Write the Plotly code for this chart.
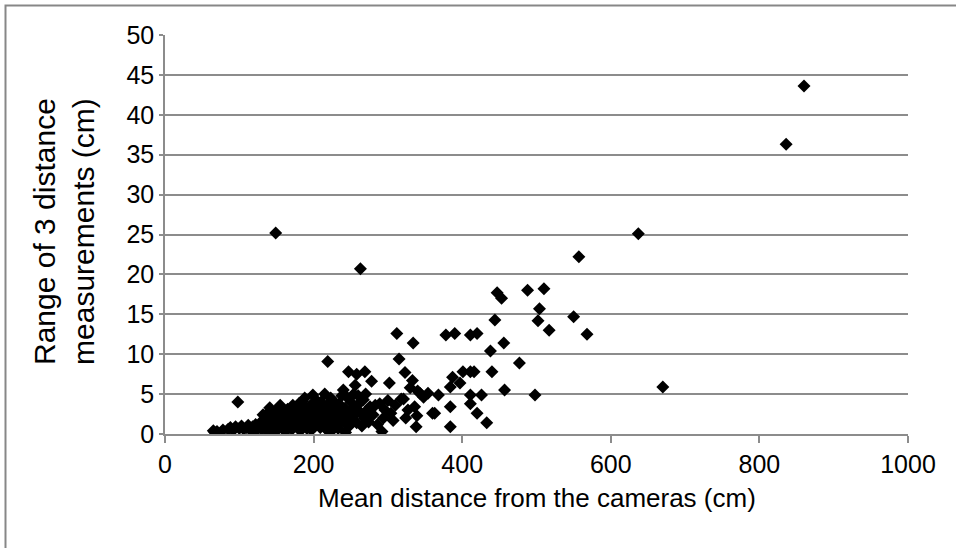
import plotly.graph_objects as go

# Mean distance from the cameras (cm)
mean_distance = [
    65, 67, 70, 78, 85, 88, 92, 95, 98, 100, 103, 106, 110, 112, 115, 118, 120, 122, 125, 128,
    130, 132, 134, 136, 138, 140, 141, 142, 143, 145, 146, 148, 149, 150, 151, 152, 154, 155, 156, 158,
    160, 161, 162, 164, 165, 166, 168, 170, 171, 172, 174, 175, 176, 178, 179, 180, 181, 182, 184, 185,
    186, 188, 189, 190, 191, 193, 194, 196, 197, 199, 200, 201, 202, 204, 205, 206, 208, 209, 210, 211,
    212, 214, 215, 216, 217, 218, 219, 220, 221, 222, 223, 224, 225, 226, 228, 229, 230, 232, 233, 234,
    236, 237, 238, 240, 241, 242, 243, 244, 245, 247, 247, 248, 250, 251, 252, 254, 255, 256, 258, 258,
    259, 260, 262, 263, 269, 265, 267, 268, 270, 272, 274, 276, 278, 280, 283, 286, 289, 292, 294, 296,
    300, 302, 304, 307, 310, 312, 315, 318, 321, 323, 324, 327, 330, 333, 334, 336, 338, 339, 340, 343,
    348, 354, 360, 363, 368, 378, 384, 384, 384, 387, 390, 397, 401, 411, 411, 411, 411, 416, 420, 420,
    426, 433, 438, 440, 444, 447, 453, 456, 457, 477, 488, 498, 502, 504, 510, 517, 550, 557, 568, 637,
    670, 836, 860,
]

# Range of 3 distance measurements (cm)
distance_range = [
    0.4, 0.2, 0.3, 0.5, 0.6, 0.8, 0.5, 0.9, 4.0, 0.7, 1.0, 0.6, 0.8, 1.1, 0.5, 0.9, 0.2, 1.2, 0.8, 1.4,
    0.6, 2.4, 1.0, 1.8, 0.3, 2.8, 3.3, 1.5, 0.1, 2.2, 0.9, 1.7, 25.2, 3.0, 0.5, 2.5, 1.2, 3.6, 2.0, 0.8,
    2.9, 1.5, 0.3, 2.2, 3.1, 1.0, 1.8, 2.6, 0.6, 3.6, 1.4, 2.0, 3.0, 0.9, 2.4, 3.8, 1.6, 0.4, 2.8, 4.1,
    1.2, 4.5, 2.0, 3.2, 0.7, 2.5, 1.5, 3.6, 0.5, 4.9, 2.2, 3.0, 1.0, 4.2, 1.8, 2.7, 3.4, 0.8, 4.0, 2.3,
    1.4, 3.0, 5.0, 2.0, 0.6, 3.6, 9.1, 2.6, 1.2, 0.2, 4.5, 3.2, 1.8, 2.8, 4.0, 1.0, 3.4, 2.2, 0.7, 3.8,
    1.5, 2.9, 4.8, 5.5, 2.0, 3.2, 0.2, 1.2, 4.6, 7.8, 2.6, 1.0, 4.0, 3.0, 1.8, 5.0, 2.4, 6.1, 7.5, 1.4,
    3.6, 4.8, 2.8, 20.7, 7.8, 1.0, 4.3, 2.0, 5.0, 3.0, 1.5, 3.4, 6.6, 2.4, 3.6, 1.2, 3.8, 0.3, 2.0, 3.0,
    4.2, 6.4, 2.6, 1.7, 3.6, 12.6, 9.4, 4.4, 4.4, 7.7, 2.0, 3.0, 5.8, 6.7, 11.4, 3.4, 0.9, 2.3, 5.4, 5.1,
    4.6, 5.1, 2.6, 2.6, 4.9, 12.4, 0.9, 3.4, 5.9, 7.1, 12.6, 6.4, 7.8, 7.8, 12.4, 4.9, 3.8, 7.8, 12.6, 2.6,
    4.9, 1.4, 10.4, 7.8, 14.3, 17.7, 17.0, 11.4, 5.5, 8.9, 18.0, 4.9, 14.2, 15.7, 18.2, 13.0, 14.7, 22.2, 12.5, 25.1,
    5.9, 36.3, 43.6,
]

x_ticks = [0, 200, 400, 600, 800, 1000]
y_ticks = [0, 5, 10, 15, 20, 25, 30, 35, 40, 45, 50]

x_title = "Mean distance from the cameras (cm)"
y_title = "Range of 3 distance<br>measurements (cm)"

FONT = "Liberation Sans, Arial, sans-serif"
GRID = "#8c8c8c"

fig = go.Figure()
fig.add_trace(go.Scatter(
    x=mean_distance, y=distance_range, mode="markers",
    marker=dict(symbol="diamond", size=10, color="black", line=dict(width=0)),
    showlegend=False, hoverinfo="x+y",
))

W, H = 956, 548
L, R, T, B = 165, 48, 35, 114
pw, ph = W - L - R, H - T - B

fig.update_layout(
    width=W, height=H,
    margin=dict(l=L, r=R, t=T, b=B, pad=0),
    paper_bgcolor="white", plot_bgcolor="white",
    font=dict(family=FONT, color="black"),
    xaxis=dict(
        range=[0, 1000], tickvals=x_ticks, ticktext=[str(v) for v in x_ticks],
        showgrid=False, zeroline=False,
        showline=True, linecolor=GRID, linewidth=1.5,
        ticks="outside", ticklen=7, tickcolor=GRID, tickwidth=1.5,
        tickfont=dict(size=25, family=FONT), fixedrange=True,
    ),
    yaxis=dict(
        range=[0, 50], tickvals=y_ticks, ticktext=[str(v) for v in y_ticks],
        showgrid=True, gridcolor=GRID, gridwidth=1.5,
        zeroline=False,
        showline=True, linecolor=GRID, linewidth=1.5,
        ticks="outside", ticklen=4, tickcolor=GRID, tickwidth=1.5,
        tickfont=dict(size=25, family=FONT), fixedrange=True,
    ),
    annotations=[
        dict(text=x_title, xref="paper", yref="paper",
             x=0.5, y=(434 - 498) / ph, xanchor="center", yanchor="middle",
             showarrow=False, font=dict(size=26, family=FONT)),
        dict(text=y_title, xref="paper", yref="paper",
             x=(64 - L) / pw, y=(434 - 232) / ph, xanchor="center", yanchor="middle",
             textangle=-90, showarrow=False, font=dict(size=30, family=FONT)),
    ],
    shapes=[
        dict(type="rect", xref="paper", yref="paper",
             x0=(5.5 - L) / pw, x1=3, y0=-3, y1=(434 - 5.5) / ph,
             line=dict(color="#878787", width=2), layer="below"),
    ],
)

fig.write_html(
    "out.html",
    config={"displayModeBar": False},
    post_script="document.body.style.margin='0';document.body.style.padding='0';",
)
